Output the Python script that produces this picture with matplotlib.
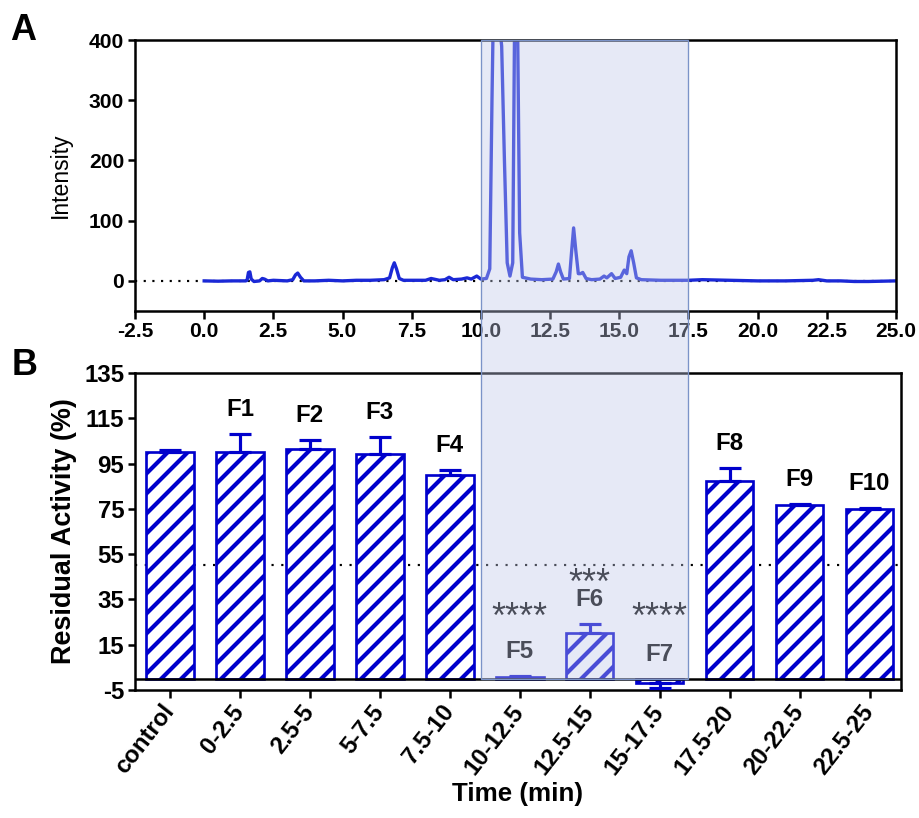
import matplotlib
matplotlib.use('Agg')
import matplotlib.pyplot as plt
from matplotlib.patches import Rectangle

# --- chromatogram (panel A) ---
trace_t = [0.0, 0.5, 1.0, 1.5, 1.55, 1.6, 1.65, 1.7, 1.8, 2.0, 2.1, 2.18, 2.3, 2.5,
           3.0, 3.2, 3.3, 3.38, 3.48, 3.6, 4.0, 4.5, 5.0, 5.5, 6.0, 6.5, 6.7, 6.8,
           6.87, 6.95, 7.05, 7.2, 7.5, 8.0, 8.2, 8.3, 8.5, 8.7, 8.85, 9.0, 9.3, 9.5,
           9.65, 9.85, 10.0, 10.2, 10.32, 10.4, 10.45, 10.62, 10.75, 10.85, 10.95,
           11.05, 11.15, 11.22, 11.32, 11.4, 11.5, 11.8, 12.2, 12.6, 12.72, 12.8,
           12.88, 12.98, 13.2, 13.28, 13.35, 13.43, 13.52, 13.6, 13.68, 13.8, 14.0,
           14.3, 14.45, 14.55, 14.72, 14.85, 15.05, 15.18, 15.27, 15.35, 15.43,
           15.52, 15.62, 15.8, 16.5, 17.5, 18.0, 19.0, 20.0, 21.0, 22.0, 22.2,
           22.5, 23.0, 23.5, 24.0, 25.0]
trace_i = [0, -0.5, 0, 0, 1, 14, 15, 3, -1, 0, 4, 3, 0, 1,
           0, 2, 10, 13, 6, 0, 0, 1, 0, 1, 1, 2, 5, 22,
           30, 20, 4, 1, 1, 1, 4, 3, 1, 2, 6, 2, 3, 5,
           3, 8, 3, 4, 20, 300, 450, 450, 390, 200, 30,
           8, 30, 450, 450, 80, 6, 3, 2, 3, 15, 28,
           15, 3, 4, 50, 88, 50, 12, 12, 14, 4, 2,
           3, 8, 5, 12, 4, 6, 18, 12, 40, 50,
           30, 5, 2, 1, 1, 2, 1, 0, 0, 1, 2,
           0, 0, -1, -1, 0]

# --- residual activity (panel B) ---
fractions = ['control', '0-2.5', '2.5-5', '5-7.5', '7.5-10', '10-12.5',
             '12.5-15', '15-17.5', '17.5-20', '20-22.5', '22.5-25']
bar_names = ['', 'F1', 'F2', 'F3', 'F4', 'F5', 'F6', 'F7', 'F8', 'F9', 'F10']
activity = [100, 100, 101.5, 99.2, 89.8, 0.6, 20.3, -2, 87.5, 76.8, 74.8]
sem = [1.2, 8, 3.8, 7.5, 2.2, 0.4, 4, 2, 5.5, 0.5, 0.4]
stars = {5: '****', 6: '***', 7: '****'}

DPI = 60
def fs(px):
    # font size given as em height in pixels
    return px * 72 / DPI

blue = '#0000cc'
plt.rcParams['font.family'] = ['Liberation Sans', 'DejaVu Sans']
plt.rcParams['font.weight'] = 'bold'
plt.rcParams['axes.labelweight'] = 'bold'
plt.rcParams['axes.unicode_minus'] = False
plt.rcParams['hatch.linewidth'] = 5
plt.rcParams['axes.linewidth'] = 3
plt.rcParams['xtick.major.width'] = 3
plt.rcParams['ytick.major.width'] = 3
plt.rcParams['xtick.major.size'] = 9
plt.rcParams['ytick.major.size'] = 9

fig = plt.figure(figsize=(919 / DPI, 818 / DPI), dpi=DPI)
ax1 = fig.add_axes([135 / 919, 1 - 311 / 818, 761 / 919, 271 / 818])
ax2 = fig.add_axes([135 / 919, 1 - 690 / 818, 766 / 919, 317 / 818])

# panel A
ax1.axhline(0, color='black', lw=2.6, ls=(0, (1, 3)), zorder=1)
ax1.plot(trace_t, trace_i, color='#1a28d6', lw=4, zorder=2)
ax1.set_xlim(-2.5, 25)
ax1.set_ylim(-50, 400)
ax1.set_xticks([-2.5 + 2.5 * k for k in range(12)])
ax1.set_xticklabels(['%.1f' % (-2.5 + 2.5 * k) for k in range(12)])
ax1.set_yticks([0, 100, 200, 300, 400])
ax1.tick_params(labelsize=fs(21), pad=4)
ax1.set_ylabel('Intensity', fontsize=fs(23), fontweight='normal', labelpad=20)

# panel B
x = list(range(len(fractions)))
ax2.axhline(50, color='black', lw=2.6, ls=(0, (1, 3.5)), zorder=1)
ax2.bar(x, activity, width=0.68, color='white', edgecolor=blue, linewidth=3.2,
        hatch='/', zorder=2)
lower = [s if a < 0 else 0 for a, s in zip(activity, sem)]
upper = [0 if a < 0 else s for a, s in zip(activity, sem)]
ax2.errorbar(x, activity, yerr=[lower, upper], fmt='none', ecolor=blue,
             elinewidth=3.8, capsize=13, capthick=3.8, zorder=3)
ax2.axhline(0, color='black', lw=3, zorder=4)

for i, name in enumerate(bar_names):
    if not name:
        continue
    top = max(activity[i] + sem[i], 0)
    ax2.text(i, top + 8, name, ha='center', va='baseline', fontsize=fs(24), zorder=5)
star_base = {5: 22.5, 6: 37.5, 7: 22.5}
for i, s in stars.items():
    ax2.text(i, star_base[i], s, ha='center', va='baseline', fontsize=fs(36),
             fontweight='normal', zorder=5)

ax2.set_xlim(-0.5, 10.45)
ax2.set_ylim(-5, 135)
ax2.set_yticks(list(range(-5, 136, 20)))
ax2.set_xticks(x)
ax2.set_xticklabels(fractions, rotation=52, ha='right', va='center',
                    rotation_mode='anchor')
ax2.tick_params(labelsize=fs(24), pad=4)
ax2.tick_params(axis='x', pad=12)
ax2.set_ylabel('Residual Activity (%)', fontsize=fs(27), labelpad=8)
ax2.set_xlabel('Time (min)', fontsize=fs(26), labelpad=4)

fig.text(10 / 919, 1 - 40 / 818, 'A', fontsize=fs(36), fontweight='bold')
fig.text(12 / 919, 1 - 375 / 818, 'B', fontsize=fs(36), fontweight='bold')

# shaded window 10-17.5 min spanning both panels
inv = fig.transFigure.inverted()
x0, y1 = inv.transform(ax1.transData.transform((10, 400)))
x1, _ = inv.transform(ax1.transData.transform((17.5, 400)))
_, y0 = inv.transform(ax2.transData.transform((0, 0)))
fig.patches.append(Rectangle((x0, y0), x1 - x0, y1 - y0, transform=fig.transFigure,
                             facecolor='#bfc7e8', alpha=0.39, edgecolor='none', zorder=10))
fig.patches.append(Rectangle((x0, y0), x1 - x0, y1 - y0, transform=fig.transFigure,
                             facecolor='none', edgecolor='#7b93c8', lw=1.6, zorder=11))

fig.savefig('out.png', dpi=DPI)
